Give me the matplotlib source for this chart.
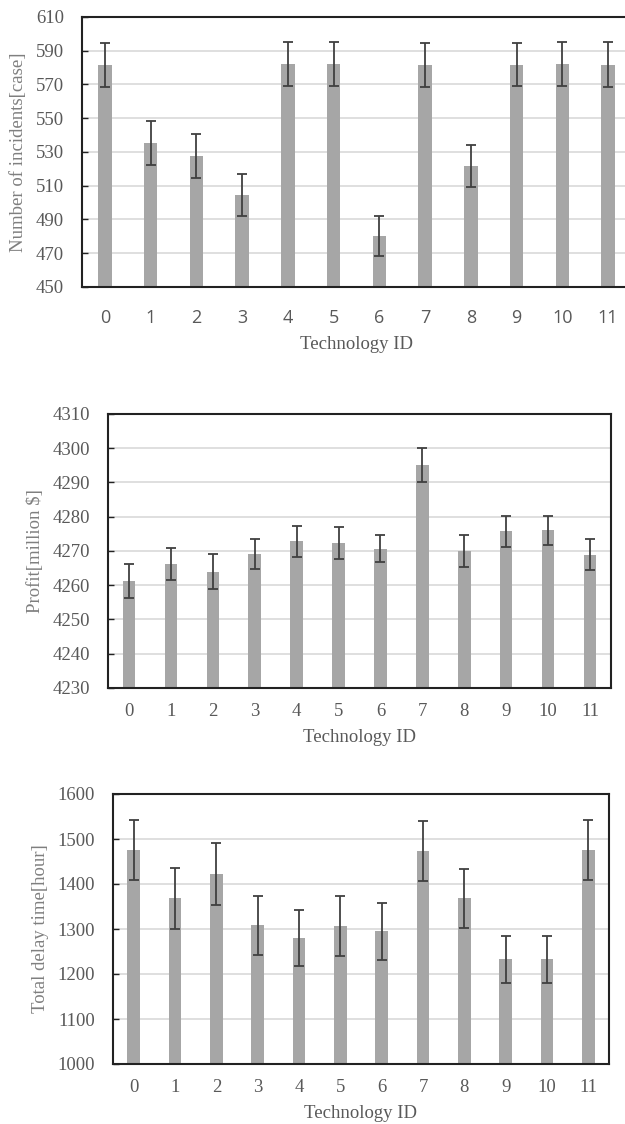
import numpy as np
import matplotlib
matplotlib.use("Agg")
import matplotlib.pyplot as plt

plt.rcParams['font.family'] = ['Liberation Serif', 'DejaVu Serif']

tech_ids = [str(i) for i in range(12)]

incidents = [581.6, 535.3, 527.4, 504.5, 582.4, 582.4, 480.2, 581.6, 521.8, 581.8, 582.4, 581.8]
incidents_err = [13, 12.8, 13, 12.5, 13, 13, 11.6, 13, 12.5, 12.8, 13, 13.5]

profit = [4261.3, 4266.3, 4264.0, 4269.0, 4272.8, 4272.4, 4270.7, 4295.0, 4270.0, 4275.7, 4276.0, 4268.9]
profit_err = [5.0, 4.7, 5.0, 4.4, 4.6, 4.6, 4.0, 5.0, 4.7, 4.5, 4.2, 4.5]

delay = [1476, 1368, 1423, 1308, 1280, 1306, 1295, 1473, 1368, 1233, 1233, 1476]
delay_err = [67, 67, 69, 66, 63, 67, 63, 66, 65, 52, 52, 66]

BAR = "#a6a6a6"
ERR = "#404040"
GRID = "#d9d9d9"
TXT = "#595959"

W, H = 625, 1124
fig = plt.figure(figsize=(W / 100, H / 100), dpi=100)


def box(l, r, t, b):
    return [l / W, 1 - b / H, (r - l) / W, (b - t) / H]


panels = [
    dict(rect=box(82, 631, 17, 287), vals=incidents, err=incidents_err,
         ylim=(450, 610), ticks=np.arange(450, 611, 20),
         ylabel="Number of incidents[case]", xpad=16, sans_x=True),
    dict(rect=box(108, 611, 414, 688), vals=profit, err=profit_err,
         ylim=(4230, 4310), ticks=np.arange(4230, 4311, 10),
         ylabel="Profit[million $]", xpad=11, sans_x=False),
    dict(rect=box(113, 609, 794, 1064), vals=delay, err=delay_err,
         ylim=(1000, 1600), ticks=np.arange(1000, 1601, 100),
         ylabel="Total delay time[hour]", xpad=11, sans_x=False),
]

x = np.arange(len(tech_ids))
for p in panels:
    ax = fig.add_axes(p["rect"])
    ax.bar(x, p["vals"], width=0.3, color=BAR, zorder=2)
    ax.errorbar(x, p["vals"], yerr=p["err"], fmt="none", ecolor=ERR,
                elinewidth=1.3, capsize=3.5, capthick=1.3, zorder=3)
    ax.set_xlim(-0.5, 11.5)
    ax.set_ylim(*p["ylim"])
    ax.set_yticks(p["ticks"])
    ax.set_xticks(x)
    ax.set_xticklabels(tech_ids)
    ax.yaxis.grid(True, color=GRID, lw=1.2, zorder=0)
    ax.set_axisbelow(True)
    for s in ax.spines.values():
        s.set_color("#222222")
        s.set_linewidth(1.5)
    ax.tick_params(axis="y", direction="in", length=4, width=1, color="#222222",
                   labelsize=13.5, labelcolor=TXT, pad=13)
    ax.tick_params(axis="x", length=0, labelsize=13.5, labelcolor=TXT, pad=p["xpad"])
    if p["sans_x"]:
        for lab in ax.get_xticklabels():
            lab.set_family(["Open Sans", "DejaVu Sans"])
            lab.set_fontsize(13)
    ax.set_ylabel(p["ylabel"], fontsize=13.5, color="#7f7f7f", labelpad=6)
    ax.set_xlabel("Technology ID", fontsize=13.5, color=TXT, labelpad=6)

fig.savefig("out.png", dpi=100)
